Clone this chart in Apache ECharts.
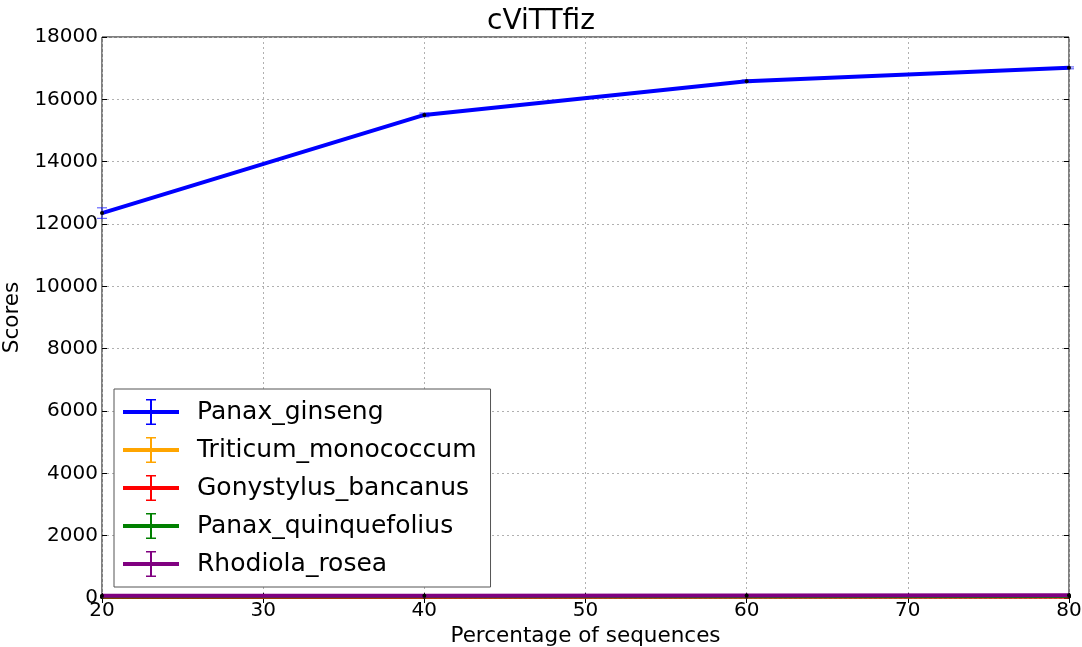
<!DOCTYPE html>
<html>
<head>
<meta charset="utf-8">
<script src="https://cdn.jsdelivr.net/npm/echarts@6/dist/echarts.min.js"></script>
<style>
  html, body { margin: 0; padding: 0; background: #fff; }
  #chart { width: 1082px; height: 647px; }
</style>
</head>
<body>
<div id="chart"></div>
<script>
// data
const xValues = [20, 40, 60, 80];
const seriesNames = ['Panax_ginseng', 'Triticum_monococcum', 'Gonystylus_bancanus', 'Panax_quinquefolius', 'Rhodiola_rosea'];
const seriesColors = ['#0000ff', '#ffa500', '#ff0000', '#008000', '#800080'];
const panaxGinseng = [12350, 15500, 16580, 17010];
const triticumMonococcum = [40, 45, 50, 55];
const gonystylusBancanus = [35, 40, 45, 50];
const panaxQuinquefolius = [50, 55, 60, 65];
const rhodiolaRosea = [70, 75, 80, 85];
const ginsengErr = [170, 60, 40, 30];
const yTicks = [0, 2000, 4000, 6000, 8000, 10000, 12000, 14000, 16000, 18000];

const allValues = [panaxGinseng, triticumMonococcum, gonystylusBancanus, panaxQuinquefolius, rhodiolaRosea];

// legend icon: thick line with an error bar through the middle
const errIcon = 'path://M0,11L56,11L56,15L0,15Z M27,0L29,0L29,26L27,26Z M23,0L33,0L33,1.5L23,1.5Z M23,24.5L33,24.5L33,26L23,26Z';

const font = 'DejaVu Sans';
const chart = echarts.init(document.getElementById('chart'));

const lineSeries = seriesNames.map((name, i) => ({
  name: name,
  type: 'line',
  data: xValues.map((x, j) => [x, allValues[i][j]]),
  color: seriesColors[i],
  lineStyle: { width: 4, color: seriesColors[i] },
  symbol: 'circle',
  symbolSize: 4,
  itemStyle: { color: '#000', borderWidth: 0 },
  z: 3 + i,
  animation: false
}));

// error bars for the top series
const errSeries = {
  type: 'custom',
  name: 'Panax_ginseng',
  data: xValues.map((x, j) => [x, panaxGinseng[j] - ginsengErr[j], panaxGinseng[j] + ginsengErr[j]]),
  renderItem: function (params, api) {
    const lo = api.coord([api.value(0), api.value(1)]);
    const hi = api.coord([api.value(0), api.value(2)]);
    const hw = 5;
    const st = { stroke: 'rgba(0,0,255,0.6)', lineWidth: 1.2 };
    return {
      type: 'group',
      children: [
        { type: 'line', shape: { x1: lo[0], y1: lo[1], x2: hi[0], y2: hi[1] }, style: st },
        { type: 'line', shape: { x1: lo[0] - hw, y1: lo[1], x2: lo[0] + hw, y2: lo[1] }, style: st },
        { type: 'line', shape: { x1: hi[0] - hw, y1: hi[1], x2: hi[0] + hw, y2: hi[1] }, style: st }
      ]
    };
  },
  z: 2,
  silent: true,
  animation: false
};

const gridSplit = { show: true, lineStyle: { color: '#b0b0b0', type: [2, 3], width: 1 } };

const option = {
  backgroundColor: '#fff',
  title: {
    text: 'cViTTfiz',
    left: 'center',
    top: 3,
    textStyle: { fontFamily: font, fontSize: 28, fontWeight: 'normal', color: '#000' }
  },
  grid: {
    left: 102, right: 13, top: 37, bottom: 49,
    outerBoundsMode: 'none',
    containLabel: false,
    show: true, borderColor: '#000', borderWidth: 1, backgroundColor: 'transparent'
  },
  legend: {
    orient: 'vertical',
    left: 114,
    top: 389,
    width: 377,
    padding: [10, 14, 10, 9],
    itemGap: 12,
    itemWidth: 56,
    itemHeight: 26,
    backgroundColor: '#fff',
    borderColor: '#555',
    borderWidth: 1,
    data: seriesNames.map((n, i) => ({ name: n, icon: errIcon, itemStyle: { color: seriesColors[i] } })),
    textStyle: { fontFamily: font, fontSize: 25, lineHeight: 26, color: '#000', padding: [0, 0, 0, 13] },
    selectedMode: false
  },
  xAxis: [{
    type: 'value',
    min: 20, max: 80, interval: 10,
    name: 'Percentage of sequences',
    nameLocation: 'middle',
    nameGap: 27,
    nameTextStyle: { fontFamily: font, fontSize: 21.5, color: '#000' },
    axisLine: { show: false },
    axisTick: { show: true, inside: true, length: 5, lineStyle: { color: '#000' } },
    axisLabel: { fontFamily: font, fontSize: 20, color: '#000', margin: 3 },
    splitLine: gridSplit
  }, {
    type: 'value',
    position: 'top',
    min: 20, max: 80, interval: 10,
    axisLine: { show: false },
    axisTick: { show: true, inside: true, length: 5, lineStyle: { color: '#000' } },
    axisLabel: { show: false },
    splitLine: { show: false }
  }],
  yAxis: [{
    type: 'value',
    min: 0, max: 18000, interval: 2000,
    name: 'Scores',
    nameLocation: 'middle',
    nameGap: 63,
    nameTextStyle: { fontFamily: font, fontSize: 21.5, color: '#000' },
    axisLine: { show: false },
    axisTick: { show: true, inside: true, length: 5, lineStyle: { color: '#000' } },
    axisLabel: {
      fontFamily: font, fontSize: 20, color: '#000', margin: 4,
      formatter: v => (yTicks.includes(v) ? String(v) : '')
    },
    splitLine: gridSplit
  }, {
    type: 'value',
    position: 'right',
    min: 0, max: 18000, interval: 2000,
    axisLine: { show: false },
    axisTick: { show: true, inside: true, length: 5, lineStyle: { color: '#000' } },
    axisLabel: { show: false },
    splitLine: { show: false }
  }],
  series: [errSeries].concat(lineSeries)
};

chart.setOption(option);
</script>
</body>
</html>
